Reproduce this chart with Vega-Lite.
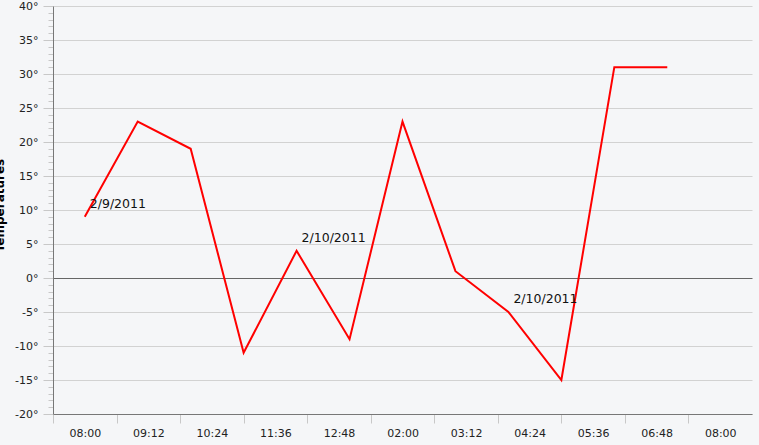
{
  "$schema": "https://vega.github.io/schema/vega-lite/v6.json",
  "width": 699,
  "height": 408,
  "autosize": {"type": "none"},
  "padding": {"left": 53, "top": 6, "right": 7, "bottom": 31},
  "background": "#f5f6f8",
  "config": {
    "view": {"stroke": null, "fill": "#f5f6f8"},
    "font": "DejaVu Sans"
  },
  "data": {
    "values": [
      {"time": "2011-02-09T08:00:00", "temp": 9, "note": "2/9/2011"},
      {"time": "2011-02-09T09:00:00", "temp": 23, "note": ""},
      {"time": "2011-02-09T10:00:00", "temp": 19, "note": ""},
      {"time": "2011-02-09T11:00:00", "temp": -11, "note": ""},
      {"time": "2011-02-09T12:00:00", "temp": 4, "note": "2/10/2011"},
      {"time": "2011-02-09T13:00:00", "temp": -9, "note": ""},
      {"time": "2011-02-09T14:00:00", "temp": 23, "note": ""},
      {"time": "2011-02-09T15:00:00", "temp": 1, "note": ""},
      {"time": "2011-02-09T16:00:00", "temp": -5, "note": "2/10/2011"},
      {"time": "2011-02-09T17:00:00", "temp": -15, "note": ""},
      {"time": "2011-02-09T18:00:00", "temp": 31, "note": ""},
      {"time": "2011-02-09T19:00:00", "temp": 31, "note": ""}
    ]
  },
  "encoding": {
    "x": {
      "field": "time",
      "type": "temporal",
      "scale": {
        "domain": [
          {"year": 2011, "month": 2, "date": 9, "hours": 7, "minutes": 24},
          {"year": 2011, "month": 2, "date": 9, "hours": 20, "minutes": 36}
        ],
        "nice": false
      },
      "axis": {
        "title": null,
        "grid": false,
        "values": [
          {"year": 2011, "month": 2, "date": 9, "hours": 7, "minutes": 24},
          {"year": 2011, "month": 2, "date": 9, "hours": 8, "minutes": 36},
          {"year": 2011, "month": 2, "date": 9, "hours": 9, "minutes": 48},
          {"year": 2011, "month": 2, "date": 9, "hours": 11, "minutes": 0},
          {"year": 2011, "month": 2, "date": 9, "hours": 12, "minutes": 12},
          {"year": 2011, "month": 2, "date": 9, "hours": 13, "minutes": 24},
          {"year": 2011, "month": 2, "date": 9, "hours": 14, "minutes": 36},
          {"year": 2011, "month": 2, "date": 9, "hours": 15, "minutes": 48},
          {"year": 2011, "month": 2, "date": 9, "hours": 17, "minutes": 0},
          {"year": 2011, "month": 2, "date": 9, "hours": 18, "minutes": 12},
          {"year": 2011, "month": 2, "date": 9, "hours": 19, "minutes": 24}
        ],
        "labelExpr": "timeFormat(time(datum.value) + 2160000, '%I:%M')",
        "labelOffset": 31.8,
        "labelOverlap": false,
        "labelBound": false,
        "labelFlush": false,
        "labelFont": "DejaVu Sans",
        "labelFontSize": 11,
        "labelColor": "#222222",
        "labelPadding": 4,
        "tickSize": 9,
        "tickColor": "#c8c8c8",
        "domainColor": "#777777",
        "domainWidth": 1
      }
    },
    "y": {
      "field": "temp",
      "type": "quantitative",
      "scale": {"domain": [-20, 40], "nice": false, "zero": false},
      "axis": {
        "title": "Temperatures",
        "titleFont": "DejaVu Sans",
        "titleFontSize": 12,
        "titleFontWeight": "bold",
        "titleColor": "#000000",
        "titleAngle": -90,
        "titleBaseline": "bottom",
        "titleAlign": "center",
        "titleX": -47,
        "titleY": 199,
        "values": [-20,-19,-18,-17,-16,-15,-14,-13,-12,-11,-10,-9,-8,-7,-6,-5,-4,-3,-2,-1,0,1,2,3,4,5,6,7,8,9,10,11,12,13,14,15,16,17,18,19,20,21,22,23,24,25,26,27,28,29,30,31,32,33,34,35,36,37,38,39,40],
        "labelExpr": "datum.value % 5 === 0 ? datum.value + '°' : ''",
        "labelOverlap": false,
        "labelBound": false,
        "labelFlush": false,
        "labelFont": "DejaVu Sans",
        "labelFontSize": 11,
        "labelColor": "#222222",
        "labelPadding": 5,
        "tickSize": {"condition": {"test": "datum.value % 5 === 0", "value": 10}, "value": 5},
        "tickColor": "#c8c8c8",
        "grid": true,
        "gridColor": {"condition": {"test": "datum.value === 0", "value": "#666666"}, "value": "#d2d2d2"},
        "gridOpacity": {"condition": {"test": "datum.value % 5 === 0", "value": 1}, "value": 0},
        "domainColor": "#777777",
        "domainWidth": 1
      }
    }
  },
  "layer": [
    {
      "mark": {"type": "line", "color": "#ff0000", "strokeWidth": 2}
    },
    {
      "mark": {"type": "text", "align": "left", "baseline": "middle", "dx": 5, "dy": -13, "fontSize": 12.5, "font": "DejaVu Sans", "color": "#111111"},
      "encoding": {"text": {"field": "note"}}
    }
  ]
}
